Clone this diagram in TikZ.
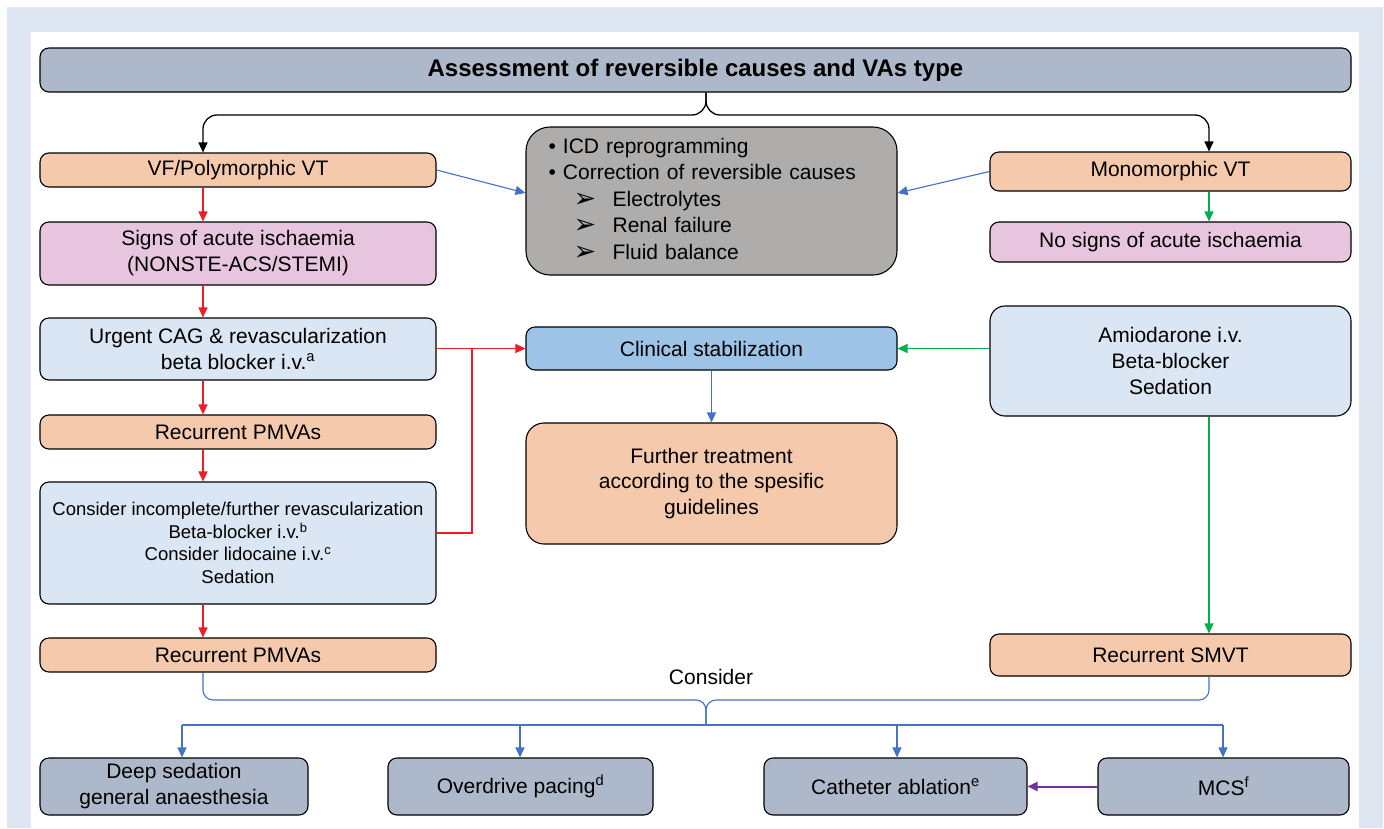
\documentclass[tikz,border=0pt]{standalone}
\usepackage{fontspec}
\setmainfont{Liberation Sans}
\newfontfamily\dejavu{DejaVu Sans}
\usetikzlibrary{arrows.meta,calc}
\definecolor{cBg}{HTML}{DEE7F1}
\definecolor{cHead}{HTML}{ADB9CA}
\definecolor{cPeach}{HTML}{F5C9AB}
\definecolor{cPink}{HTML}{E8C5DF}
\definecolor{cLblue}{HTML}{DAE6F3}
\definecolor{cMblue}{HTML}{9DC3E6}
\definecolor{cGray}{HTML}{AEADAB}
\definecolor{cRed}{HTML}{EE1D25}
\definecolor{cBlue}{HTML}{4472C4}
\definecolor{cGreen}{HTML}{00B050}
\definecolor{cPurple}{HTML}{7030A0}
\tikzset{
  bx/.style={draw=black, line width=1.1pt, rounded corners=9pt, align=center, inner sep=0pt,
             font=\fontsize{21}{26}\selectfont},
  arr/.style={-{Triangle[width=9pt,length=10pt]}},
  redln/.style={draw=cRed, line width=1.1pt},
  bluln/.style={draw=cBlue, line width=1.1pt},
  grnln/.style={draw=cGreen, line width=1.1pt},
  blkln/.style={draw=black, line width=1.3pt},
  purln/.style={draw=cPurple, line width=2pt},
}
\newcommand{\arrowhd}{\makebox[39pt][l]{\raisebox{-1pt}{\dejavu\fontsize{27}{27}\selectfont ➢}}}
\begin{document}
\begin{tikzpicture}[x=1pt,y=-1pt]
\useasboundingbox (0,0) rectangle (1384,828);
\fill[cBg] (7,7) rectangle (1383,828);
\fill[white] (31,32) rectangle (1359,828);

% header
\node[bx, fill=cHead, minimum width=1311pt, minimum height=44pt,
      font=\fontsize{24}{28}\selectfont\bfseries] (header) at (695.5,70)
      {Assessment of reversible causes and VAs type};

% left column
\node[bx,fill=cPeach,minimum width=396pt,minimum height=34pt] (vf) at (238,170) {VF/Polymorphic VT};
\node[bx,fill=cPink,minimum width=396pt,minimum height=63pt] (signs) at (238,253.5) {Signs of acute ischaemia\\(NONSTE-ACS/STEMI)};
\node[bx,fill=cLblue,minimum width=396pt,minimum height=62pt] (urgent) at (238,349) {Urgent CAG \& revascularization\\beta blocker i.v.\textsuperscript{a}};
\node[bx,fill=cPeach,minimum width=396pt,minimum height=34pt] (rec1) at (238,432) {Recurrent PMVAs};
\node[bx,fill=cLblue,minimum width=396pt,minimum height=122pt,font=\fontsize{18.5}{22.5}\selectfont] (cons) at (238,543)
  {Consider incomplete/further revascularization\\Beta-blocker i.v.\textsuperscript{b}\\Consider lidocaine i.v.\textsuperscript{c}\\Sedation};
\node[bx,fill=cPeach,minimum width=396pt,minimum height=34pt] (rec2) at (238,655) {Recurrent PMVAs};

% middle column
\node[bx,fill=cGray,rounded corners=24pt,minimum width=371pt,minimum height=148pt] (icd) at (711.5,201) {};
\node[text width=323pt,align=left,inner sep=0pt,anchor=north west,
      font=\fontsize{21}{26.5}\selectfont] (icdtext) at ($(icd.north west)+(23,11.5)$)
  {\textbullet\ ICD reprogramming\\
   \textbullet\ Correction of reversible causes\\
   \hspace*{25pt}\arrowhd Electrolytes\\
   \hspace*{25pt}\arrowhd Renal failure\\
   \hspace*{25pt}\arrowhd Fluid balance};
\node[bx,fill=cMblue,minimum width=371pt,minimum height=43pt] (clin) at (711.5,348.5) {Clinical stabilization};
\node[bx,fill=cPeach,rounded corners=18pt,minimum width=371pt,minimum height=121pt,font=\fontsize{21}{25.5}\selectfont] (further) at (711.5,483.5)
  {Further treatment\\according to the spesific\\guidelines};

% right column
\node[bx,fill=cPeach,minimum width=361pt,minimum height=39pt] (mono) at (1170.5,171.5) {Monomorphic VT};
\node[bx,fill=cPink,minimum width=361pt,minimum height=40pt] (nosigns) at (1170.5,242) {No signs of acute ischaemia};
\node[bx,fill=cLblue,rounded corners=15pt,minimum width=361pt,minimum height=110pt] (amio) at (1170.5,361)
  {Amiodarone i.v.\\Beta-blocker\\Sedation};
\node[bx,fill=cPeach,minimum width=361pt,minimum height=42pt] (smvt) at (1170.5,655) {Recurrent SMVT};

% bottom row
\node[bx,fill=cHead,minimum width=268pt,minimum height=57pt] (deep) at (174,786.5) {Deep sedation\\general anaesthesia};
\node[bx,fill=cHead,minimum width=265pt,minimum height=57pt] (over) at (520.5,786.5) {Overdrive pacing\textsuperscript{d}};
\node[bx,fill=cHead,minimum width=263pt,minimum height=57pt] (cath) at (895.5,786.5) {Catheter ablation\textsuperscript{e}};
\node[bx,fill=cHead,minimum width=251pt,minimum height=57pt] (mcs) at (1223.5,786.5) {MCS\textsuperscript{f}};

\node[font=\fontsize{21}{26}\selectfont] (considertxt) at (711,677) {Consider};

% helper coordinates
\coordinate (xL) at (203,0);
\coordinate (xR) at (1209,0);
\coordinate (bm) at (706,0);
\coordinate (ht) at (0,115);
\coordinate (hb) at (0,700);
\coordinate (bus) at (0,725);
\coordinate (jx) at (472,0);
\coordinate (b1) at (182,0);
\coordinate (b2) at (520,0);
\coordinate (b3) at (897,0);
\coordinate (b4) at (1223,0);

% top brace
\draw[blkln,arr,rounded corners=14pt] (header.south -| bm) -- (bm |- ht) -- (xL |- ht) -- (vf.north -| xL);
\draw[blkln,arr,rounded corners=14pt] (header.south -| bm) -- (bm |- ht) -- (xR |- ht) -- (mono.north -| xR);

% red
\draw[redln,arr] (vf.south -| xL) -- (signs.north -| xL);
\draw[redln,arr] (signs.south -| xL) -- (urgent.north -| xL);
\draw[redln,arr] (urgent.south -| xL) -- (rec1.north -| xL);
\draw[redln,arr] (rec1.south -| xL) -- (cons.north -| xL);
\draw[redln,arr] (cons.south -| xL) -- (rec2.north -| xL);
\draw[redln,arr] (clin.west -| urgent.east) -- (clin.west);
\draw[redln] ($(cons.east)+(0,-10)$) -- ($(cons.east -| jx)+(0,-10)$) -- (jx |- clin.west);

% blue
\draw[bluln,arr] (vf.east) -- ($(icd.west)+(0,-8)$);
\draw[bluln,arr] (mono.west) -- ($(icd.east)+(0,-8)$);
\draw[bluln,arr] (clin.south) -- (further.north);

% green
\draw[grnln,arr] (mono.south -| xR) -- (nosigns.north -| xR);
\draw[grnln,arr] (clin.east -| amio.west) -- (clin.east);
\draw[grnln,arr] (amio.south -| xR) -- (smvt.north -| xR);

% bottom brace
\draw[bluln,rounded corners=10pt] (rec2.south -| xL) -- (xL |- hb) -- (bm |- hb) -- (bm |- bus);
\draw[bluln,rounded corners=10pt] (smvt.south -| xR) -- (xR |- hb) -- (bm |- hb) -- (bm |- bus);
\draw[bluln] (b1 |- bus) -- (b4 |- bus);
\draw[bluln,arr] (b1 |- bus) -- (deep.north -| b1);
\draw[bluln,arr] (b2 |- bus) -- (over.north -| b2);
\draw[bluln,arr] (b3 |- bus) -- (cath.north -| b3);
\draw[bluln,arr] (b4 |- bus) -- (mcs.north -| b4);

% purple
\draw[purln,arr] (mcs.west) -- (cath.east);
\end{tikzpicture}
\end{document}
